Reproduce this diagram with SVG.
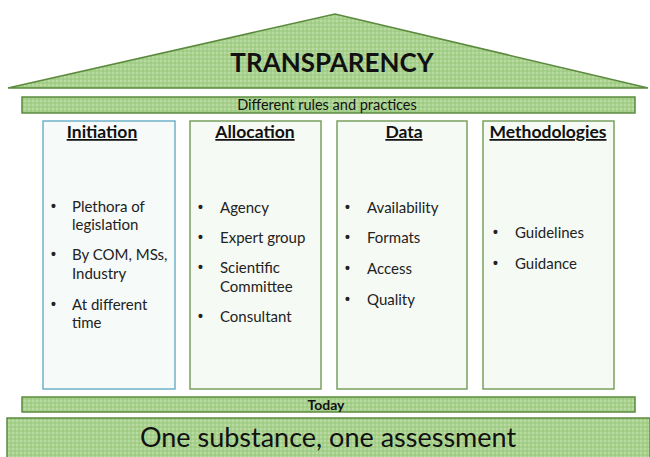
<svg xmlns="http://www.w3.org/2000/svg" width="650" height="457" viewBox="0 0 650 457">
<defs>
<pattern id="dots" width="4" height="4" patternUnits="userSpaceOnUse">
<rect width="4" height="4" fill="#a9d18e"/>
<rect x="0" y="0" width="2" height="2" fill="#b9dba3"/>
<rect x="2" y="2" width="2" height="2" fill="#9fca83"/>
</pattern>
<style>
.g{fill:url(#dots);stroke:#5b8a3e;stroke-width:1.5}
.col{fill:#f6faf4;stroke:#7aa05f;stroke-width:1.5}
.t{font-family:Lato,"Liberation Sans",sans-serif;fill:#111}
.h{font-family:Lato,"Liberation Sans",sans-serif;font-weight:bold;font-size:17.5px;text-anchor:middle;text-decoration:underline;fill:#111}
.b{font-family:Lato,"Liberation Sans",sans-serif;font-size:15px;fill:#222}
.d{font-family:"Liberation Sans",sans-serif;font-size:14px;font-weight:bold;fill:#222}
</style>
</defs>
<g id="roof">
<polygon class="g" points="8,88 335,14 648,88"/>
<text class="t" x="332" y="72" font-size="26" font-weight="bold" text-anchor="middle">TRANSPARENCY</text>
</g>
<g id="bar-top">
<rect class="g" x="22" y="97" width="613" height="16"/>
<text class="t" x="327" y="110" font-size="14.5" text-anchor="middle">Different rules and practices</text>
</g>
<g id="col-initiation">
<rect x="43" y="121" width="132" height="268" fill="#f6faf8" stroke="#6fb3c8" stroke-width="1.5"/>
<text class="h" x="102" y="138">Initiation</text>
<text class="d" x="51" y="211">•</text><text class="b" x="72" y="212">Plethora of</text>
<text class="b" x="72" y="230">legislation</text>
<text class="d" x="51" y="259">•</text><text class="b" x="72" y="260">By COM, MSs,</text>
<text class="b" x="72" y="279">Industry</text>
<text class="d" x="51" y="309">•</text><text class="b" x="72" y="310">At different</text>
<text class="b" x="72" y="328">time</text>
</g>
<g id="col-allocation">
<rect class="col" x="190" y="121" width="131" height="268"/>
<text class="h" x="255" y="138">Allocation</text>
<text class="d" x="198" y="212">•</text><text class="b" x="220" y="213">Agency</text>
<text class="d" x="198" y="242">•</text><text class="b" x="220" y="243">Expert group</text>
<text class="d" x="198" y="272">•</text><text class="b" x="220" y="273">Scientific</text>
<text class="b" x="220" y="292">Committee</text>
<text class="d" x="198" y="321">•</text><text class="b" x="220" y="322">Consultant</text>
</g>
<g id="col-data">
<rect class="col" x="337" y="121" width="130" height="268"/>
<text class="h" x="404" y="138">Data</text>
<text class="d" x="345" y="212">•</text><text class="b" x="367" y="213">Availability</text>
<text class="d" x="345" y="242">•</text><text class="b" x="367" y="243">Formats</text>
<text class="d" x="345" y="273">•</text><text class="b" x="367" y="274">Access</text>
<text class="d" x="345" y="304">•</text><text class="b" x="367" y="305">Quality</text>
</g>
<g id="col-methodologies">
<rect class="col" x="483" y="121" width="131" height="268"/>
<text class="h" x="548" y="138">Methodologies</text>
<text class="d" x="493" y="237">•</text><text class="b" x="515" y="238">Guidelines</text>
<text class="d" x="493" y="268">•</text><text class="b" x="515" y="269">Guidance</text>
</g>
<g id="bar-today">
<rect class="g" x="22" y="397" width="613" height="15"/>
<text class="t" x="326" y="409.5" font-size="14" font-weight="bold" text-anchor="middle">Today</text>
</g>
<g id="base">
<rect class="g" x="7" y="418" width="643" height="45"/>
<text class="t" x="328" y="447" font-size="27" text-anchor="middle">One substance, one assessment</text>
</g>
<g id="connectors"/>
</svg>
